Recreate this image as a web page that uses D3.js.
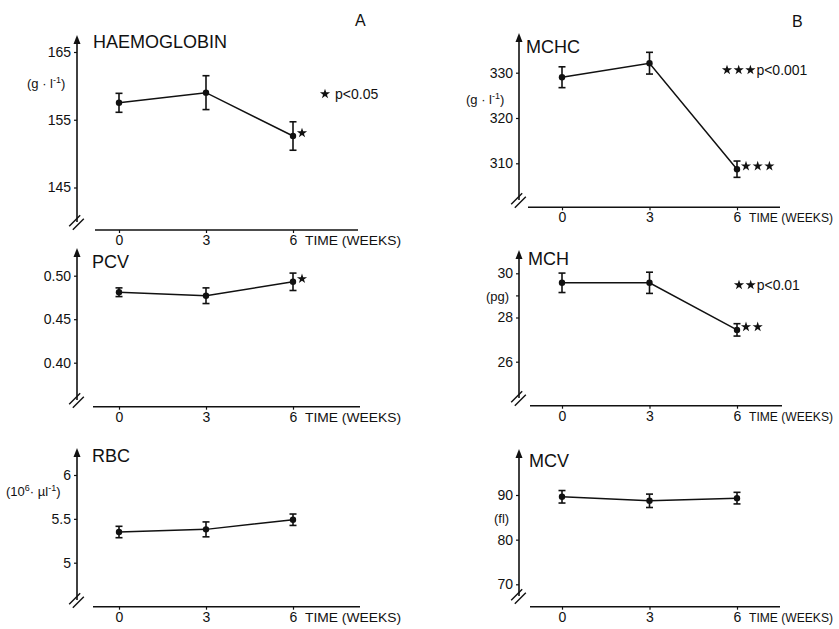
<!DOCTYPE html>
<html>
<head>
<meta charset="utf-8">
<script src="https://cdn.jsdelivr.net/npm/d3@7"></script>
<style>
  body { margin: 0; background: #fff; }
  svg { display: block; font-family: 'Liberation Sans', Arial, sans-serif; }
</style>
</head>
<body>
<div id="chart"></div>
<script>
// time points (weeks)
const weeks = [0, 3, 6];

// means and error bars
const hbMean = [157.5, 159.0, 152.6];
const hbErr = [1.4, 2.5, 2.1];
const pcvMean = [0.481, 0.477, 0.493];
const pcvErr = [0.005, 0.009, 0.01];
const rbcMean = [5.35, 5.38, 5.49];
const rbcErr = [0.065, 0.085, 0.065];
const mchcMean = [329.0, 332.1, 308.7];
const mchcErr = [2.3, 2.4, 1.8];
const mchMean = [29.57, 29.57, 27.44];
const mchErr = [0.44, 0.48, 0.28];
const mcvMean = [89.6, 88.7, 89.3];
const mcvErr = [1.4, 1.5, 1.3];

// tick values
const hbTicks = [145, 155, 165];
const pcvTicks = [0.4, 0.45, 0.5];
const rbcTicks = [5, 5.5, 6];
const mchcTicks = [310, 320, 330];
const mchTicks = [26, 28, 29, 30];
const mcvTicks = [70, 80, 90];

// significance stars at week 6
const hbSig = 1;
const pcvSig = 1;
const mchcSig = 3;
const mchSig = 2;

const width = 839,
  height = 629;

const svg = d3
  .select('#chart')
  .append('svg')
  .attr('width', width)
  .attr('height', height);

const star = d3.symbol().type(d3.symbolStar).size(32);

function drawPanel(cfg) {
  const g = svg.append('g');
  const x = d3.scaleLinear().domain([0, 6]).range(cfg.xRange);
  const y = d3.scaleLinear().domain(cfg.yDomain).range(cfg.yRange);

  // y axis ticks
  g.append('g')
    .attr('transform', 'translate(' + cfg.axisX + ',0)')
    .call(
      d3
        .axisLeft(y)
        .tickValues(cfg.ticks)
        .tickSize(3)
        .tickPadding(3)
        .tickFormat(cfg.fmt || ((d) => d))
    )
    .call((a) => a.select('.domain').remove())
    .call((a) => a.selectAll('line').attr('stroke', '#111').attr('stroke-width', 1.2))
    .call((a) =>
      a.selectAll('text').style('font-size', '14px').attr('fill', '#111').style('font-family', null)
    );

  // y axis line, arrow and break
  g.append('line')
    .attr('x1', cfg.axisX)
    .attr('x2', cfg.axisX)
    .attr('y1', cfg.yBot)
    .attr('y2', cfg.yTop + 6)
    .attr('stroke', '#111')
    .attr('stroke-width', 1.6);
  g.append('path')
    .attr(
      'd',
      'M' + cfg.axisX + ',' + cfg.yTop +
        'L' + (cfg.axisX - 3.5) + ',' + (cfg.yTop + 9) +
        'L' + (cfg.axisX + 3.5) + ',' + (cfg.yTop + 9) + 'Z'
    )
    .attr('fill', '#111');
  [-1.8, 1.8].forEach((o) => {
    g.append('line')
      .attr('x1', cfg.axisX - 6 + o)
      .attr('y1', cfg.yBot + 6 + o)
      .attr('x2', cfg.axisX + 5 + o)
      .attr('y2', cfg.yBot - 5 + o)
      .attr('stroke', '#111')
      .attr('stroke-width', 1.4);
  });

  // x axis
  g.append('g')
    .attr('transform', 'translate(0,' + cfg.xAxisY + ')')
    .call(
      d3.axisBottom(x).tickValues(weeks).tickSize(3).tickPadding(2).tickFormat(d3.format('d'))
    )
    .call((a) => a.select('.domain').remove())
    .call((a) => a.selectAll('line').attr('stroke', '#111').attr('stroke-width', 1.2))
    .call((a) =>
      a.selectAll('text').style('font-size', '14px').attr('fill', '#111').style('font-family', null)
    );
  g.append('line')
    .attr('x1', cfg.xLine[0])
    .attr('x2', cfg.xLine[1])
    .attr('y1', cfg.xAxisY)
    .attr('y2', cfg.xAxisY)
    .attr('stroke', '#111')
    .attr('stroke-width', 1.6);
  g.append('text')
    .attr('x', x(6) + 12)
    .attr('y', cfg.xAxisY + 15)
    .style('font-size', '13px')
    .attr('textLength', cfg.timeLen)
    .attr('lengthAdjust', 'spacingAndGlyphs')
    .attr('fill', '#111')
    .text('TIME (WEEKS)');

  // data line
  const pts = weeks.map((w, i) => ({ w: w, m: cfg.mean[i], e: cfg.err[i] }));
  const line = d3
    .line()
    .x((d) => x(d.w))
    .y((d) => y(d.m));
  g.append('path')
    .datum(pts)
    .attr('d', line)
    .attr('fill', 'none')
    .attr('stroke', '#111')
    .attr('stroke-width', 1.5);

  // error bars
  pts.forEach((d) => {
    g.append('line')
      .attr('x1', x(d.w))
      .attr('x2', x(d.w))
      .attr('y1', y(d.m - d.e))
      .attr('y2', y(d.m + d.e))
      .attr('stroke', '#111')
      .attr('stroke-width', 1.6);
    [d.m - d.e, d.m + d.e].forEach((v) => {
      g.append('line')
        .attr('x1', x(d.w) - 3.5)
        .attr('x2', x(d.w) + 3.5)
        .attr('y1', y(v))
        .attr('y2', y(v))
        .attr('stroke', '#111')
        .attr('stroke-width', 1.6);
    });
    g.append('circle')
      .attr('cx', x(d.w))
      .attr('cy', y(d.m))
      .attr('r', 3.2)
      .attr('fill', '#111');
  });

  // stars next to week 6
  for (let i = 0; i < (cfg.sig || 0); i++) {
    g.append('path')
      .attr('d', star)
      .attr(
        'transform',
        'translate(' + (x(6) + 9 + i * 11.7) + ',' + (y(cfg.mean[2]) - 3) + ')'
      )
      .attr('fill', '#111');
  }

  // significance legend
  if (cfg.legend) {
    const L = cfg.legend;
    for (let i = 0; i < cfg.sig; i++) {
      g.append('path')
        .attr('d', star)
        .attr('transform', 'translate(' + (L.x + i * 11.7) + ',' + L.y + ')')
        .attr('fill', '#111');
    }
    g.append('text')
      .attr('x', L.x + (cfg.sig - 1) * 11.7 + L.gap)
      .attr('y', L.y + 5)
      .style('font-size', '14px')
      .attr('fill', '#111')
      .text(L.text);
  }

  // title
  g.append('text')
    .attr('x', cfg.titleX)
    .attr('y', cfg.titleY)
    .style('font-size', '18px')
    .attr('fill', '#111')
    .text(cfg.title);

  // unit label
  const u = g
    .append('text')
    .attr('x', cfg.unit.x)
    .attr('y', cfg.unit.y)
    .style('font-size', '13px')
    .attr('fill', '#111');
  cfg.unit.parts.forEach((p) => {
    const t = u.append('tspan').text(p[0]);
    if (p[1]) t.attr('baseline-shift', 'super').style('font-size', '9px');
  });
}

drawPanel({
  title: 'HAEMOGLOBIN', titleX: 93, titleY: 48,
  mean: hbMean, err: hbErr, ticks: hbTicks, sig: hbSig,
  axisX: 77, yTop: 35, yBot: 222, yDomain: [145, 165], yRange: [187.5, 52],
  xRange: [119, 293], xLine: [95, 358], xAxisY: 230, timeLen: 96,
  unit: { x: 27, y: 88, parts: [['(g · l'], ['-1', true], [')']] },
  legend: { x: 325, y: 94, gap: 10, text: 'p<0.05' },
});

drawPanel({
  title: 'PCV', titleX: 92, titleY: 268,
  mean: pcvMean, err: pcvErr, ticks: pcvTicks, sig: pcvSig, fmt: d3.format('.2f'),
  axisX: 77, yTop: 248, yBot: 400, yDomain: [0.4, 0.5], yRange: [362.7, 275.7],
  xRange: [119, 293], xLine: [93, 360], xAxisY: 406.7, timeLen: 96,
  unit: { x: 0, y: 0, parts: [] },
});

drawPanel({
  title: 'RBC', titleX: 92, titleY: 462,
  mean: rbcMean, err: rbcErr, ticks: rbcTicks,
  axisX: 77, yTop: 448, yBot: 600, yDomain: [5, 6], yRange: [562.7, 475],
  xRange: [119, 293], xLine: [93, 360], xAxisY: 606.7, timeLen: 96,
  unit: { x: 6, y: 496, parts: [['(10'], ['6', true], ['· µl'], ['-1', true], [')']] },
});

drawPanel({
  title: 'MCHC', titleX: 526, titleY: 53,
  mean: mchcMean, err: mchcErr, ticks: mchcTicks, sig: mchcSig,
  axisX: 519, yTop: 33, yBot: 200, yDomain: [310, 330], yRange: [163.3, 72.7],
  xRange: [562, 737], xLine: [528, 780], xAxisY: 207.3, timeLen: 84,
  unit: { x: 466, y: 104, parts: [['(g · l'], ['-1', true], [')']] },
  legend: { x: 727, y: 70, gap: 6, text: 'p<0.001' },
});

drawPanel({
  title: 'MCH', titleX: 528, titleY: 265,
  mean: mchMean, err: mchErr, ticks: mchTicks, sig: mchSig,
  fmt: (d) => (d === 29 ? '' : d),
  axisX: 519, yTop: 250, yBot: 398, yDomain: [26, 30], yRange: [361.7, 273.3],
  xRange: [562, 737], xLine: [530, 782], xAxisY: 405.7, timeLen: 84,
  unit: { x: 486, y: 301, parts: [['(pg)']] },
  legend: { x: 739, y: 285, gap: 6, text: 'p<0.01' },
});

drawPanel({
  title: 'MCV', titleX: 529, titleY: 467,
  mean: mcvMean, err: mcvErr, ticks: mcvTicks,
  axisX: 519, yTop: 449, yBot: 596, yDomain: [70, 90], yRange: [584.3, 495],
  xRange: [562, 737], xLine: [530, 780], xAxisY: 606.7, timeLen: 84,
  unit: { x: 494, y: 523, parts: [['(fl)']] },
});

// panel letters
svg.append('text').attr('x', 355).attr('y', 26).style('font-size', '16px').attr('fill', '#111').text('A');
svg.append('text').attr('x', 792).attr('y', 27).style('font-size', '16px').attr('fill', '#111').text('B');
</script>
</body>
</html>
